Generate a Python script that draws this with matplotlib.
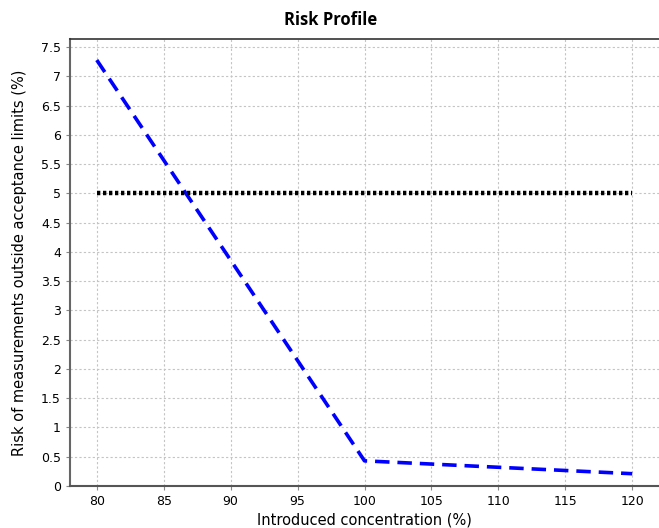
import matplotlib
matplotlib.use("Agg")
import matplotlib.pyplot as plt

# data
conc = [80, 90, 100, 110, 120]
risk = [7.28, 3.86, 0.43, 0.32, 0.21]
limit_x = [80, 120]
limit_y = [5, 5]
xticks = [80, 85, 90, 95, 100, 105, 110, 115, 120]
yticks = [0, 0.5, 1, 1.5, 2, 2.5, 3, 3.5, 4, 4.5, 5, 5.5, 6, 6.5, 7, 7.5]

fig = plt.figure(figsize=(6.59, 5.28), dpi=100)
ax = fig.add_axes([70 / 659, 42 / 528, 589 / 659, 447 / 528])

ax.plot(conc, risk, color="#0000ff", lw=2.6, dashes=(4, 2.2))
ax.plot(limit_x, limit_y, color="black", lw=3.2, linestyle=(0, (0.75, 0.6)),
        dash_capstyle="butt")

ax.set_xlim(78, 122)
ax.set_ylim(0, 7.64)
ax.set_xticks(xticks)
ax.set_xticklabels([str(t) for t in xticks])
ax.set_yticks(yticks)
ax.set_yticklabels([("%g" % t) for t in yticks])
ax.tick_params(labelsize=9, length=3, color="#888888", direction="out")
ax.grid(True, color="#c4c4c4", linestyle=(0, (2, 2)), lw=0.8)

ax.spines["right"].set_visible(False)
ax.spines["top"].set_color("#333333")
ax.spines["top"].set_linewidth(1.2)
ax.spines["left"].set_color("#666666")
ax.spines["left"].set_linewidth(1.5)
ax.spines["bottom"].set_color("#555555")
ax.spines["bottom"].set_linewidth(1.5)

ax.set_xlabel("Introduced concentration (%)", fontsize=10.5, labelpad=3)
ax.set_ylabel("Risk of measurements outside acceptance limits (%)", fontsize=10.5, labelpad=10)
fig.text(0.502, 0.962, "Risk Profile", ha="center", va="center",
         fontsize=12, fontweight="bold", family="Open Sans")

fig.savefig("out.png", dpi=100)
